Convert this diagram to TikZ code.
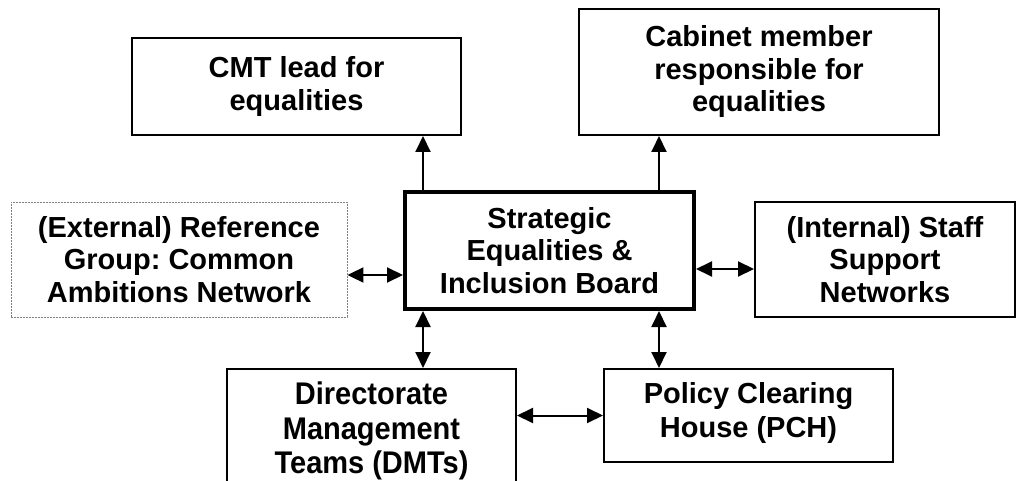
\documentclass[tikz,border=0pt]{standalone}
\usepackage{fontspec}
\setmainfont{Liberation Sans}
\usetikzlibrary{arrows.meta}
\frenchspacing
\begin{document}
\begin{tikzpicture}[x=1pt,y=-1pt,
  boxtext/.style={align=center,inner sep=0pt,
    font=\fontsize{29}{32.5}\selectfont\bfseries},
  box/.style={boxtext,draw=black,line width=2pt,rectangle},
  tip/.tip={Triangle[length=16pt,width=15pt]},
  linkline/.style={line width=2pt,-tip},
  twoway/.style={line width=2pt,tip-tip}]
\useasboundingbox (0,0) rectangle (1017,481);
\clip (0,0) rectangle (1017,481);
\fill[white] (0,0) rectangle (1017,481);

% boxes
\node[box,minimum width=329pt,minimum height=97pt] (cmt) at (296.5,86.5)
  {CMT lead for\\equalities};
\node[box,minimum width=360pt,minimum height=126pt] (cab) at (759,72)
  {Cabinet member\\responsible for\\equalities};
\node[box,draw=gray,densely dotted,line width=0.9pt,minimum width=336pt,minimum height=115pt]
  (ext) at (179,259.5) {(External) Reference\\Group: Common\\Ambitions Network};
\node[box,line width=4pt,minimum width=289pt,minimum height=117pt] (board) at (549.5,250.5)
  {Strategic\\Equalities \&\\Inclusion Board};
\node[box,minimum width=260pt,minimum height=115pt] (int) at (885,259.5)
  {(Internal) Staff\\Support\\Networks};
\node[box,minimum width=289pt,minimum height=140pt] (dmt) at (371.5,439) {};
\node[box,minimum width=289pt,minimum height=93pt] (pch) at (748.5,415.5) {};

% labels of the two lower boxes, set a little more loosely
\node[boxtext,font=\fontsize{29}{34.5}\selectfont\bfseries] (dmtlabel) at (371.5,431)
  {\scalebox{1}[1.08]{Directorate}\\\scalebox{1}[1.08]{Management}\\\scalebox{1}[1.08]{Teams (DMTs)}};
\node[boxtext,font=\fontsize{29}{34}\selectfont\bfseries] (pchlabel) at (748.5,412.5)
  {Policy Clearing\\House (PCH)};

% connectors
\coordinate (bTL) at ([xshift=20pt]board.north west);
\coordinate (bTR) at ([xshift=-37pt]board.north east);
\coordinate (bBL) at ([xshift=20pt]board.south west);
\coordinate (bBR) at ([xshift=-37pt]board.south east);
\coordinate (eR) at ([yshift=-15.5pt]ext.east);
\coordinate (iL) at ([yshift=-9.5pt]int.west);

\draw[linkline] (bTL) -- (bTL |- cmt.south);
\draw[linkline] (bTR) -- (bTR |- cab.south);
\draw[twoway] (eR) -- (eR -| board.west);
\draw[twoway] (iL -| board.east) -- (iL);
\draw[twoway] (bBL) -- (bBL |- dmt.north);
\draw[twoway] (bBR) -- (bBR |- pch.north);
\draw[twoway] (pch.west -| dmt.east) -- (pch.west);
\end{tikzpicture}
\end{document}
